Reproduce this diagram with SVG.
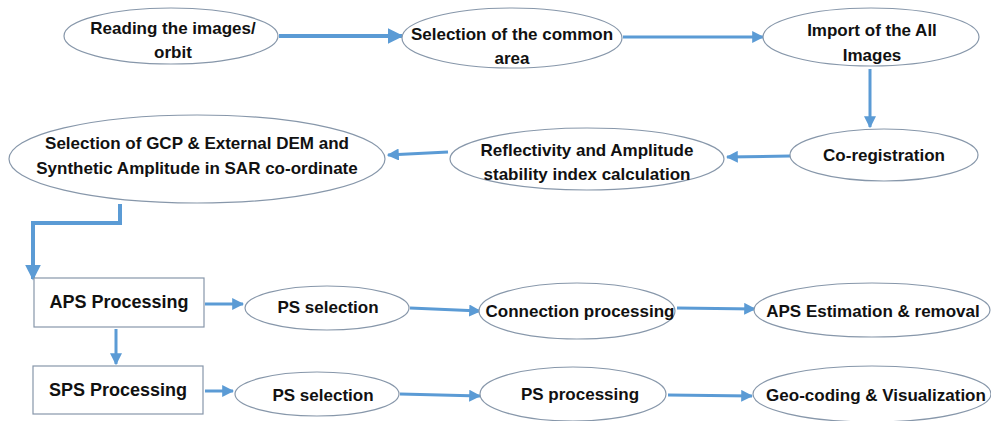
<svg xmlns="http://www.w3.org/2000/svg" width="991" height="421" viewBox="0 0 991 421">
<style>
.n{fill:#fff;stroke:#8797aa;stroke-width:1.2}
.t{font-family:"Liberation Sans",Arial,sans-serif;font-weight:bold;font-size:17px;fill:#111;text-anchor:middle}
.b{font-size:18px}
.c{fill:none;stroke:#5b9bd5;stroke-width:3}
.k{stroke-width:4}
</style>
<defs>
<marker id="ah" viewBox="0 0 10 10" refX="9" refY="5" markerWidth="4" markerHeight="4" orient="auto" markerUnits="strokeWidth">
<path d="M0,0L10,5L0,10z" fill="#5b9bd5"/>
</marker>
</defs>
<rect width="991" height="421" fill="#fff"/>
<g id="connectors">
<path class="c k" d="M279,36H402" marker-end="url(#ah)"/>
<path class="c" d="M623,37H763" marker-end="url(#ah)"/>
<path class="c" d="M870,69V127" marker-end="url(#ah)"/>
<path class="c" d="M790,156L727,157" marker-end="url(#ah)"/>
<path class="c" d="M448,152L388,155" marker-end="url(#ah)"/>
<path class="c k" d="M120,204V223H33V279" marker-end="url(#ah)"/>
<path class="c" d="M205,304H243" marker-end="url(#ah)"/>
<path class="c" d="M410,308L480,311" marker-end="url(#ah)"/>
<path class="c" d="M677,308L755,309" marker-end="url(#ah)"/>
<path class="c" d="M116,329V364" marker-end="url(#ah)"/>
<path class="c" d="M205,391H233" marker-end="url(#ah)"/>
<path class="c" d="M400,394L480,396" marker-end="url(#ah)"/>
<path class="c" d="M668,395L752,396" marker-end="url(#ah)"/>
</g>
<g id="n1"><ellipse class="n" cx="171" cy="36" rx="107" ry="28"/><text class="t" x="173" y="34">Reading the images/</text><text class="t" x="173" y="58">orbit</text></g>
<g id="n2"><ellipse class="n" cx="512" cy="38" rx="110" ry="30"/><text class="t" x="512" y="40">Selection of the common</text><text class="t" x="512" y="64">area</text></g>
<g id="n3"><ellipse class="n" cx="871" cy="37" rx="108" ry="29"/><text class="t" x="872" y="36">Import of the All</text><text class="t" x="872" y="61">Images</text></g>
<g id="n4"><ellipse class="n" cx="884" cy="155" rx="94" ry="26"/><text class="t" x="884" y="161">Co-registration</text></g>
<g id="n5"><ellipse class="n" cx="587" cy="159" rx="137" ry="31"/><text class="t" x="587" y="156">Reflectivity and Amplitude</text><text class="t" x="587" y="180">stability index calculation</text></g>
<g id="n6"><ellipse class="n" cx="197" cy="159" rx="188" ry="44"/><text class="t" x="197" y="149">Selection of GCP &amp; External DEM and</text><text class="t" x="197" y="174">Synthetic Amplitude in SAR co-ordinate</text></g>
<g id="n7"><rect class="n" x="34" y="278" width="170" height="49"/><text class="t b" x="119" y="308">APS Processing</text></g>
<g id="n8"><ellipse class="n" cx="327" cy="308" rx="82" ry="22"/><text class="t" x="328" y="313">PS selection</text></g>
<g id="n9"><ellipse class="n" cx="577" cy="311" rx="98" ry="28"/><text class="t" x="580" y="317">Connection processing</text></g>
<g id="n10"><ellipse class="n" cx="872" cy="310" rx="118" ry="27"/><text class="t" x="873" y="317">APS Estimation &amp; removal</text></g>
<g id="n11"><rect class="n" x="33" y="366" width="170" height="48"/><text class="t b" x="118" y="396">SPS Processing</text></g>
<g id="n12"><ellipse class="n" cx="317" cy="394" rx="82" ry="22"/><text class="t" x="323" y="401">PS selection</text></g>
<g id="n13"><ellipse class="n" cx="573" cy="394" rx="93" ry="27"/><text class="t" x="580" y="400">PS processing</text></g>
<g id="n14"><ellipse class="n" cx="872" cy="394" rx="119" ry="28"/><text class="t" x="876" y="401">Geo-coding &amp; Visualization</text></g>
</svg>
